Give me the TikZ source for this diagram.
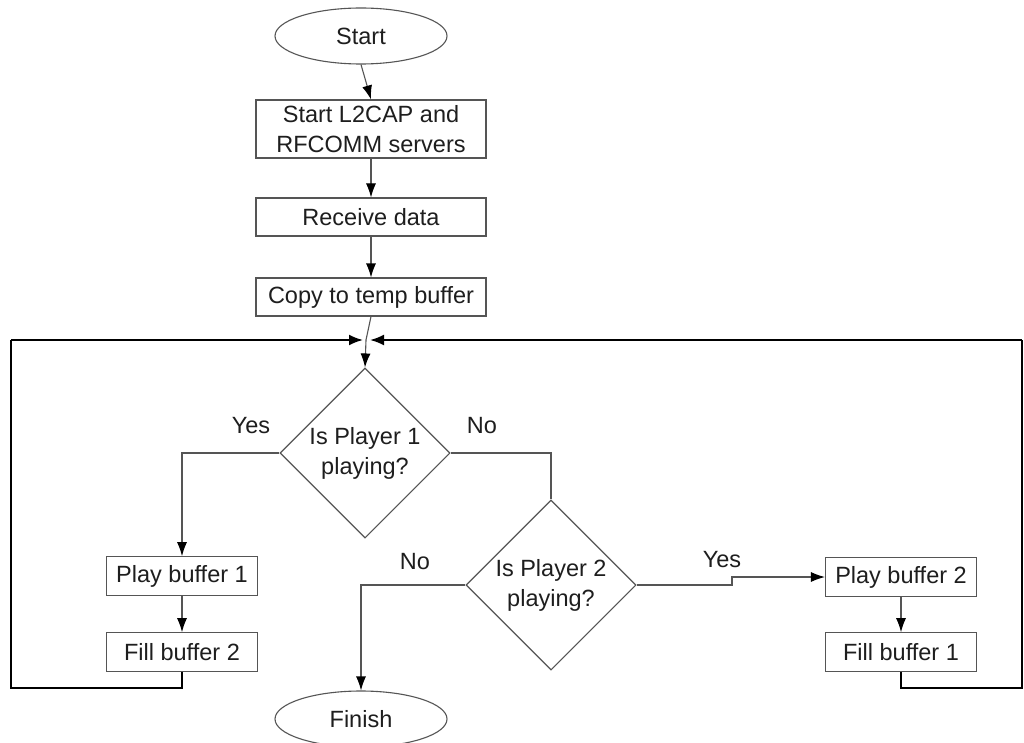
\documentclass[tikz,border=0pt]{standalone}
\usepackage{fontspec}
\setmainfont{Liberation Sans}
\usetikzlibrary{shapes.geometric,arrows.meta}

\definecolor{edgegray}{HTML}{555555}
\definecolor{ink}{HTML}{1E1E1E}

\tikzset{
  base/.style={draw=edgegray, line width=1.1pt, text=ink, inner sep=0pt,
    font=\fontsize{23.5}{30}\selectfont, align=center},
  terminal/.style={base, ellipse, minimum width=172pt, minimum height=56pt},
  procbox/.style={base, rectangle, minimum width=230pt},
  smallbox/.style={base, rectangle, minimum width=151pt, minimum height=38.5pt},
  decision/.style={base, diamond, aspect=1, minimum width=170pt, minimum height=170pt},
  flow/.style={draw=edgegray, line width=1.1pt,
    -{Latex[length=14pt,width=10pt,fill=black,color=black]}},
  plain/.style={draw=edgegray, line width=1.1pt},
  loopline/.style={draw=black, line width=2pt},
  looparrow/.style={draw=black, line width=2pt,
    -{Latex[length=14pt,width=11pt,fill=black,color=black]}},
  answer/.style={text=ink, font=\fontsize{23.5}{28}\selectfont}
}

\begin{document}
\begin{tikzpicture}[x=1pt, y=-1pt]
  \useasboundingbox (0,0) rectangle (1024,743);
  \fill[white] (0,0) rectangle (1024,743);
  \clip (0,0) rectangle (1024,743);

  % main column
  \node[terminal] (start) at (361,36) {Start};
  \node[procbox, minimum height=58pt] (servers) at (371,129) {Start L2CAP and\\RFCOMM servers};
  \node[procbox, minimum height=38pt] (receive) at (371,217) {Receive data};
  \node[procbox, minimum height=38pt] (copy) at (371,297) {Copy to temp buffer};

  \coordinate (join) at (366,340);

  % decisions
  \node[decision] (p1) at (365,453) {Is Player 1\\playing?};
  \node[decision] (p2) at (551,585) {Is Player 2\\playing?};

  % buffer handling
  \node[smallbox] (play1) at (182,576) {Play buffer 1};
  \node[smallbox] (fill2) at (182,652) {Fill buffer 2};
  \node[smallbox] (play2) at (901,577) {Play buffer 2};
  \node[smallbox] (fill1) at (901,652) {Fill buffer 1};

  \node[terminal] (finish) at (361,719) {Finish};

  % branch labels
  \node[answer] (yes1) at (251,426) {Yes};
  \node[answer] (no1) at (482,426) {No};
  \node[answer] (no2) at (415,562) {No};
  \node[answer] (yes2) at (722,560) {Yes};

  % loop-back corners
  \coordinate (lbot) at (182,688);
  \coordinate (lcorner) at (11,688);
  \coordinate (ltop) at (11,340);
  \coordinate (rbot) at (901,688);
  \coordinate (rcorner) at (1022,688);
  \coordinate (rtop) at (1022,340);
  \coordinate (step1) at (732,585);
  \coordinate (step2) at (732,577);

  % connectors
  \draw[flow] (start.south) -- (servers.north);
  \draw[flow] (servers) -- (receive);
  \draw[flow] (receive) -- (copy);
  \draw[plain] (copy.south) -- (join);
  \draw[flow] (join) -- (p1.north);

  \draw[flow] (p1.west) -| (play1.north);
  \draw[flow] (play1) -- (fill2);
  \draw[plain] (p1.east) -| (p2.north);
  \draw[flow] (p2.west) -| (finish.north);
  \draw[flow] (p2.east) -- (step1) -- (step2) -- (play2.west);
  \draw[flow] (play2) -- (fill1);

  % loops back to the decision
  \draw[loopline] (fill2.south) -- (lbot) -- (lcorner) -- (ltop);
  \draw[looparrow] (ltop) -- ([xshift=-3pt]join);
  \draw[loopline] (fill1.south) -- (rbot) -- (rcorner) -- (rtop);
  \draw[looparrow] (rtop) -- ([xshift=4pt]join);
\end{tikzpicture}
\end{document}
